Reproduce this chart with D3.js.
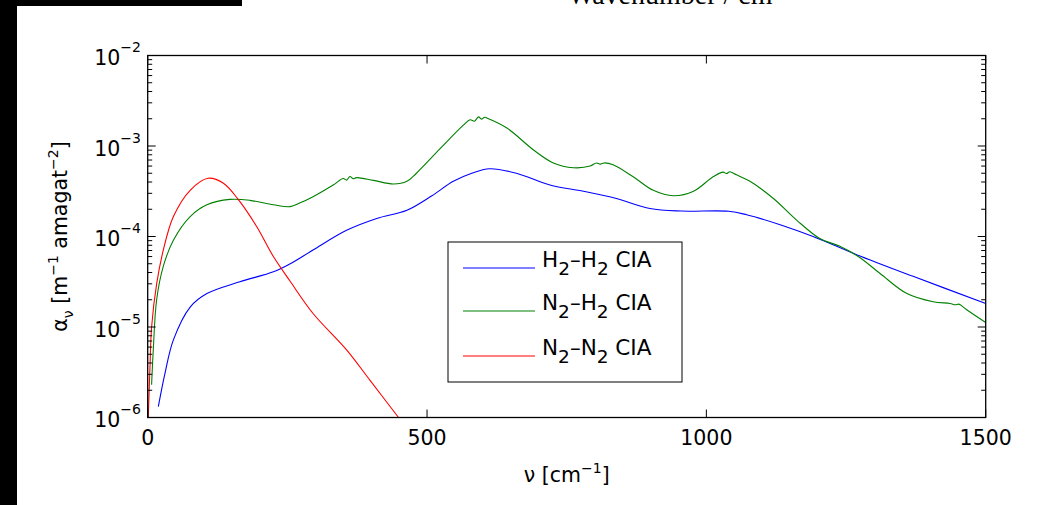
<!DOCTYPE html>
<html><head><meta charset="utf-8">
<script src="https://cdn.jsdelivr.net/npm/d3@7"></script>
<style>
html,body{margin:0;padding:0;background:#fff;}
svg text{font-family:"DejaVu Sans",sans-serif;fill:#000;}
</style></head>
<body><svg id="c" width="1046" height="505"></svg>
<script>
// ---- data ----
const nuH2H2 = [19,31,46,76,106,165,225,255,296,356,410,464,508,547,580,612,660,720,780,839,899,955,1040,1072,1132,1191,1269,1370,1500];
const valH2H2 = [1.32e-6,3.1e-6,7.2e-6,1.66e-5,2.34e-5,3.16e-5,4.07e-5,5.0e-5,7.1e-5,1.17e-4,1.58e-4,1.95e-4,2.8e-4,4.07e-4,5.0e-4,5.6e-4,5.0e-4,3.7e-4,3.16e-4,2.63e-4,2.04e-4,1.91e-4,1.9e-4,1.74e-4,1.35e-4,1.0e-4,6.3e-5,3.63e-5,1.82e-5];

const nuN2H2 = [7,10,16,28,46,76,106,147,183,225,255,272,296,332,350,356,362,368,374,404,440,464,481,523,565,577,585,592,598,603,607,643,690,726,762,792,803,810,817,833,869,905,941,977,1012,1030,1036,1042,1054,1078,1120,1162,1203,1239,1272,1311,1359,1406,1436,1446,1452,1466,1500];
const valN2H2 = [2.3e-6,5.6e-6,2.0e-5,4.7e-5,9.1e-5,1.66e-4,2.24e-4,2.57e-4,2.51e-4,2.24e-4,2.14e-4,2.34e-4,2.75e-4,3.7e-4,4.37e-4,4.2e-4,4.6e-4,4.35e-4,4.47e-4,4.17e-4,3.8e-4,4.07e-4,5.0e-4,9.3e-4,1.7e-3,1.95e-3,1.88e-3,2.1e-3,1.98e-3,2.08e-3,2.04e-3,1.58e-3,9.1e-4,6.5e-4,5.75e-4,6.0e-4,6.5e-4,6.3e-4,6.5e-4,6.2e-4,4.57e-4,3.24e-4,2.82e-4,3.16e-4,4.57e-4,5.15e-4,4.95e-4,5.2e-4,4.8e-4,4.07e-4,2.63e-4,1.51e-4,9.5e-5,7.8e-5,6.0e-5,3.9e-5,2.34e-5,1.9e-5,1.82e-5,1.76e-5,1.79e-5,1.55e-5,1.12e-5];

const nuN2N2 = [1,4,7,16,28,46,76,108,135,162,195,225,255,296,356,398,449];
const valN2N2 = [1.0e-6,3.5e-6,1.0e-5,3.0e-5,7.1e-5,1.66e-4,3.24e-4,4.4e-4,3.9e-4,2.57e-4,1.29e-4,6.0e-5,3.2e-5,1.41e-5,5.6e-6,2.57e-6,1.0e-6];

const xTicks = [0,500,1000,1500];
const yTickExps = [-6,-5,-4,-3,-2];
const seriesNames = ["H2-H2","N2-H2","N2-N2"];
const seriesColors = ["#0000ff","#008000","#ff0000"];

// ---- layout ----
const L=147.7, R=985.7, T=55.5, B=417.5;
const svg = d3.select("#c");
const x = d3.scaleLinear().domain([0,1500]).range([L,R]);
const y = d3.scaleLog().domain([1e-6,1e-2]).range([B,T]);

// black page edges (cropped figure)
svg.append("rect").attr("x",0).attr("y",0).attr("width",242).attr("height",6).attr("fill","#000");
svg.append("rect").attr("x",0).attr("y",0).attr("width",17).attr("height",505).attr("fill","#000");

// cropped title text at top
svg.append("text").attr("x",568).attr("y",4).attr("font-size",28)
  .style("font-family","'Liberation Serif',serif").text("Wavenumber / cm");

// clip
svg.append("defs").append("clipPath").attr("id","clip").append("rect")
  .attr("x",L).attr("y",T).attr("width",R-L).attr("height",B-T);

// lines
const line = d3.line().x(d=>x(d[0])).y(d=>y(d[1])).curve(d3.curveCatmullRom.alpha(0.5));
const allData = [d3.zip(nuH2H2,valH2H2), d3.zip(nuN2H2,valN2H2), d3.zip(nuN2N2,valN2N2)];
const g = svg.append("g").attr("clip-path","url(#clip)");
allData.forEach((d,i)=>{
  g.append("path").attr("d",line(d)).attr("fill","none")
   .attr("stroke",seriesColors[i]).attr("stroke-width",1.1);
});

// frame
svg.append("rect").attr("x",L).attr("y",T).attr("width",R-L).attr("height",B-T)
  .attr("fill","none").attr("stroke","#000").attr("stroke-width",1.3);

// ticks
const yMinor = [];
yTickExps.slice(0,-1).forEach(e=>{ for(let k=2;k<=9;k++) yMinor.push(k*Math.pow(10,e)); });
const yMajor = yTickExps.map(e=>Math.pow(10,e));
const tk = svg.append("g").attr("stroke","#000").attr("stroke-width",1);
yMajor.forEach(v=>{
  tk.append("line").attr("x1",L).attr("x2",L+8).attr("y1",y(v)).attr("y2",y(v));
  tk.append("line").attr("x1",R).attr("x2",R-8).attr("y1",y(v)).attr("y2",y(v));
});
yMinor.forEach(v=>{
  tk.append("line").attr("x1",L).attr("x2",L+4.5).attr("y1",y(v)).attr("y2",y(v));
  tk.append("line").attr("x1",R).attr("x2",R-4.5).attr("y1",y(v)).attr("y2",y(v));
});
xTicks.forEach(v=>{
  tk.append("line").attr("x1",x(v)).attr("x2",x(v)).attr("y1",B).attr("y2",B-8);
  tk.append("line").attr("x1",x(v)).attr("x2",x(v)).attr("y1",T).attr("y2",T+8);
});

// tick labels
xTicks.forEach(v=>{
  svg.append("text").attr("x",x(v)).attr("y",445).attr("text-anchor","middle")
    .attr("font-size",20.5).text(v);
});
yTickExps.forEach(e=>{
  const t = svg.append("text").attr("x",141).attr("y",y(Math.pow(10,e))+9.5)
    .attr("text-anchor","end").attr("font-size",20.5);
  t.append("tspan").text("10");
  t.append("tspan").attr("dy",-13).attr("font-size",14).text("\u2212"+(-e));
});

// axis labels
const xl = svg.append("text").attr("x",(L+R)/2).attr("y",482).attr("text-anchor","middle").attr("font-size",20.5);
xl.append("tspan").text("\u03bd [cm");
xl.append("tspan").attr("dy",-9).attr("font-size",14).text("\u22121");
xl.append("tspan").attr("dy",9).text("]");

const yl = svg.append("text").attr("transform",`translate(67,${(T+B)/2}) rotate(-90)`)
  .attr("text-anchor","middle").attr("font-size",20.5);
yl.append("tspan").text("\u03b1");
yl.append("tspan").attr("dy",6).attr("font-size",14).text("\u03bd");
yl.append("tspan").attr("dy",-6).text(" [m");
yl.append("tspan").attr("dy",-9).attr("font-size",14).text("\u22121");
yl.append("tspan").attr("dy",9).text(" amagat");
yl.append("tspan").attr("dy",-9).attr("font-size",14).text("\u22122");
yl.append("tspan").attr("dy",9).text("]");

// legend
const lg = svg.append("g");
lg.append("rect").attr("x",448).attr("y",242).attr("width",234).attr("height",140)
  .attr("fill","#fff").attr("stroke","#000").attr("stroke-width",1);
const legRows = [268,311,356];
const legParts = [["H","H"],["N","H"],["N","N"]];
legRows.forEach((ry,i)=>{
  lg.append("line").attr("x1",463).attr("x2",535).attr("y1",ry).attr("y2",ry)
    .attr("stroke",seriesColors[i]).attr("stroke-width",1.1);
  const t = lg.append("text").attr("x",542).attr("y",ry-1).attr("font-size",21.5);
  t.append("tspan").text(legParts[i][0]);
  t.append("tspan").attr("dy",8).attr("font-size",18.5).text("2");
  t.append("tspan").attr("dy",-8).text("\u2013"+legParts[i][1]);
  t.append("tspan").attr("dy",8).attr("font-size",18.5).text("2");
  t.append("tspan").attr("dy",-8).text(" CIA");
});
</script></body></html>
